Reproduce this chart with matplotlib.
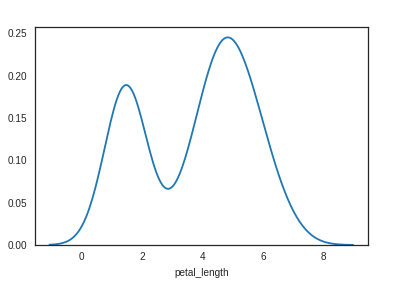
"""KDE of iris petal length"""

import numpy as np
import matplotlib
matplotlib.use("Agg")
import matplotlib.pyplot as plt

# iris petal_length values (setosa, versicolor, virginica)
setosa = [1.4, 1.4, 1.3, 1.5, 1.4, 1.7, 1.4, 1.5, 1.4, 1.5, 1.5, 1.6, 1.4, 1.1, 1.2, 1.5, 1.3,
          1.4, 1.7, 1.5, 1.7, 1.5, 1.0, 1.7, 1.9, 1.6, 1.6, 1.5, 1.4, 1.6, 1.6, 1.5, 1.5, 1.4,
          1.5, 1.2, 1.3, 1.5, 1.3, 1.5, 1.3, 1.3, 1.3, 1.6, 1.9, 1.4, 1.6, 1.4, 1.5, 1.4]
versicolor = [4.7, 4.5, 4.9, 4.0, 4.6, 4.5, 4.7, 3.3, 4.6, 3.9, 3.5, 4.2, 4.0, 4.7, 3.6, 4.4,
              4.5, 4.1, 4.5, 3.9, 4.8, 4.0, 4.9, 4.7, 4.3, 4.4, 4.8, 5.0, 4.5, 3.5, 3.8, 3.7,
              3.9, 5.1, 4.5, 4.5, 4.7, 4.4, 4.1, 4.0, 4.4, 4.6, 4.0, 3.3, 4.2, 4.2, 4.2, 4.3,
              3.0, 4.1]
virginica = [6.0, 5.1, 5.9, 5.6, 5.8, 6.6, 4.5, 6.3, 5.8, 6.1, 5.1, 5.3, 5.5, 5.0, 5.1, 5.3,
             5.5, 6.7, 6.9, 5.0, 5.7, 4.9, 6.7, 4.9, 5.7, 6.0, 4.8, 4.9, 5.6, 5.8, 6.1, 6.4,
             5.6, 5.1, 5.6, 6.1, 5.6, 5.5, 4.8, 5.4, 5.6, 5.1, 5.1, 5.9, 5.7, 5.2, 5.0, 5.2,
             5.4, 5.1]
petal_length = np.array(setosa + versicolor + virginica)

# Gaussian KDE, Scott's rule like the old seaborn/statsmodels default, cut=3
n = len(petal_length)
q75, q25 = np.percentile(petal_length, [75, 25])
bw = 1.059 * min(petal_length.std(ddof=1), (q75 - q25) / 1.349) * n ** (-0.2)
grid = np.linspace(petal_length.min() - 3 * bw, petal_length.max() + 3 * bw, 200)
density = np.exp(-0.5 * ((grid[:, None] - petal_length[None, :]) / bw) ** 2).sum(axis=1)
density /= n * bw * np.sqrt(2 * np.pi)

plt.rcParams['font.family'] = ['Liberation Sans', 'DejaVu Sans']
plt.rcParams['font.size'] = 7.2

fig = plt.figure(figsize=(3.94, 2.88), dpi=100)
ax = fig.add_axes([34.5 / 394, 1 - 245 / 288, (368 - 34.5) / 394, (245 - 27) / 288])

ax.plot(grid, density, color='#1f77b4', linewidth=1.3)
ax.set_ylim(bottom=0)
ax.set_xlabel('petal_length', color='0.15')

for spine in ax.spines.values():
    spine.set_color('0.15')
    spine.set_linewidth(0.9)
ax.tick_params(length=0, colors='0.15', pad=5)

fig.savefig('out.png', dpi=100)
